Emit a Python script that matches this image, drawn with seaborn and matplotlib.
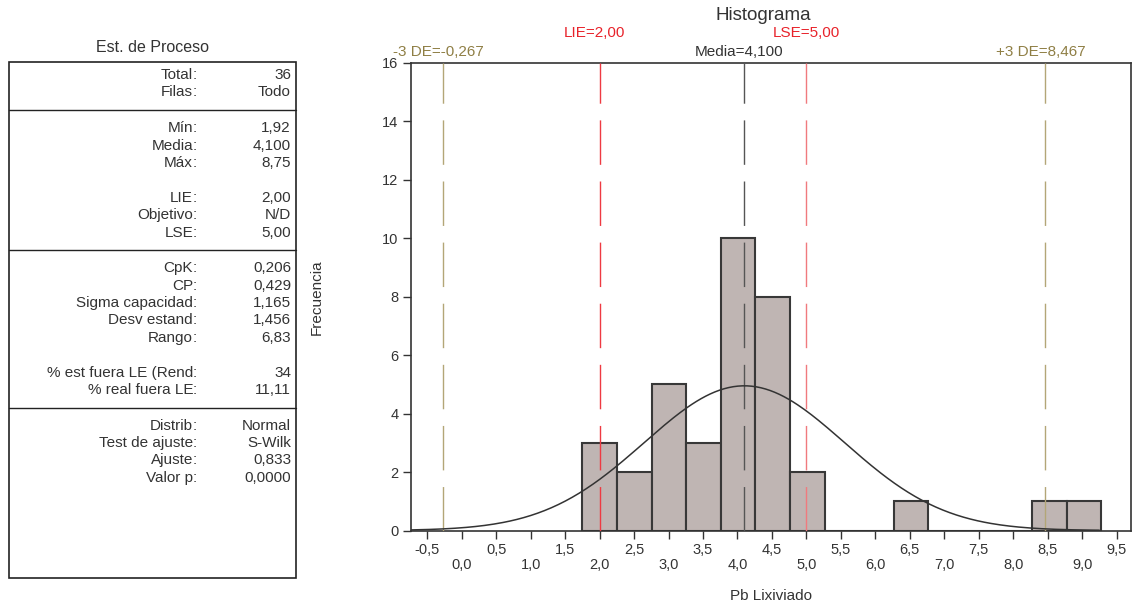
import numpy as np
import pandas as pd
import seaborn as sns
import matplotlib
matplotlib.use('Agg')
import matplotlib.pyplot as plt
from matplotlib.transforms import offset_copy

#%% data
bin_edges = [1.75, 2.252, 2.754, 3.256, 3.758, 4.26, 4.762, 5.264, 5.766,
             6.268, 6.77, 7.272, 7.774, 8.276, 8.778, 9.28]
counts = [3, 2, 5, 3, 10, 8, 2, 0, 0, 1, 0, 0, 0, 1, 1]
n_total = 36
mean, sd = 4.100, 1.456
lie, lse = 2.00, 5.00
minus3, plus3 = -0.267, 8.467

tick_pos = [-0.5, 0.0, 0.5, 1.0, 1.5, 2.0, 2.5, 3.0, 3.5, 4.0, 4.5, 5.0,
            5.5, 6.0, 6.5, 7.0, 7.5, 8.0, 8.5, 9.0, 9.5]
tick_txt = ['-0,5', '0,0', '0,5', '1,0', '1,5', '2,0', '2,5', '3,0', '3,5', '4,0',
            '4,5', '5,0', '5,5', '6,0', '6,5', '7,0', '7,5', '8,0', '8,5', '9,0', '9,5']

stat_groups = [
    [('Total', '36'), ('Filas', 'Todo')],
    [('Mín', '1,92'), ('Media', '4,100'), ('Máx', '8,75'), None,
     ('LIE', '2,00'), ('Objetivo', 'N/D'), ('LSE', '5,00')],
    [('CpK', '0,206'), ('CP', '0,429'), ('Sigma capacidad', '1,165'),
     ('Desv estand', '1,456'), ('Rango', '6,83'), None,
     ('% est fuera LE (Rend', '34'), ('% real fuera LE', '11,11')],
    [('Distrib', 'Normal'), ('Test de ajuste', 'S-Wilk'), ('Ajuste', '0,833'),
     ('Valor p', '0,0000')],
]

#%% plot setup
sns.set_style("white")
plt.rcParams['font.family'] = ['Liberation Sans', 'DejaVu Sans']
txt_col = '#333333'
olive_txt = '#8f7f45'
olive_line = '#b3a677'
red_txt = '#e8232b'
fs = 11

W, H = 1137, 607
fig = plt.figure(figsize=(W / 100, H / 100), dpi=100)

# background axes in pixel coords for the stats panel and title
bg = fig.add_axes([0, 0, 1, 1])
bg.set_xlim(0, W)
bg.set_ylim(H, 0)
bg.axis('off')
bg.add_patch(plt.Rectangle((9, 62), 287, 516, fill=False, ec='#222222', lw=1.2))
bg.text(153, 47, 'Est. de Proceso', ha='center', va='center', fontsize=11.5, color=txt_col)
bg.text(763, 16, 'Histograma', ha='center', va='center', fontsize=13.5, color=txt_col)

y = 75
row_h = 17.4
for gi, group in enumerate(stat_groups):
    for item in group:
        if item is not None:
            lab, val = item
            bg.text(193, y, lab, ha='right', va='center', fontsize=fs, color=txt_col)
            bg.text(197, y, ':', ha='right', va='center', fontsize=fs, color=txt_col)
            bg.text(291, y, val, ha='right', va='center', fontsize=fs, color=txt_col)
        y += row_h
    if gi < len(stat_groups) - 1:
        sep = y - row_h / 2 + 9
        bg.plot([9, 296], [sep, sep], color='#222222', lw=1.0)
        y = sep + 18

#%% histogram
ax = fig.add_axes([411 / W, 1 - 530.5 / H, (1131 - 411) / W, (530.5 - 63) / H])
df = pd.DataFrame({'x': [(a + b) / 2 for a, b in zip(bin_edges[:-1], bin_edges[1:])],
                   'n': counts})
sns.histplot(data=df, x='x', weights='n', bins=bin_edges, ax=ax,
             color='#bfb5b3', edgecolor='#383838', linewidth=1.5, alpha=1, zorder=2)

xmin, xmax = -0.737, 9.71
bw = bin_edges[1] - bin_edges[0]
xs = np.linspace(xmin, 9.25, 300)
ys = n_total * bw * np.exp(-0.5 * ((xs - mean) / sd) ** 2) / (sd * np.sqrt(2 * np.pi))
sns.lineplot(x=xs, y=ys, ax=ax, color='#333333', linewidth=1.1, zorder=4)

dash = (0, (32, 12))
for xv, c in [(minus3, olive_line), (lie, '#ee3a42'), (mean, '#555555'),
              (lse, '#f07a7e'), (plus3, olive_line)]:
    ax.axvline(xv, color=c, lw=1.0, linestyle=dash, zorder=3)

ax.set_xlim(xmin, xmax)
ax.set_ylim(0, 16)
ax.set_yticks(range(0, 17, 2))
ax.set_xticks(tick_pos)
ax.set_xticklabels([t if i % 2 == 0 else '\n' + t for i, t in enumerate(tick_txt)],
                   linespacing=1.05)
ax.tick_params(direction='out', length=6, width=1, colors='#333333', labelsize=10.5,
               bottom=True, left=True, pad=3)
for s in ax.spines.values():
    s.set_color('#333333')
    s.set_linewidth(1.2)
ax.set_xlabel('Pb Lixiviado', fontsize=fs, color=txt_col)
ax.set_ylabel('Frecuencia', fontsize=fs, color=txt_col)
ax.xaxis.set_label_coords((771 - 411) / 720, -0.126)
ax.yaxis.set_label_coords(-0.121, 0.5)

# labels above the reference lines
trans = ax.get_xaxis_transform()
shift = offset_copy(trans, fig=fig, x=-5, y=0, units='dots')
ax.text(minus3, 1.0235, '-3 DE=-0,267', ha='center', va='center', fontsize=fs, color=olive_txt, transform=shift)
ax.text(plus3, 1.0235, '+3 DE=8,467', ha='center', va='center', fontsize=fs, color=olive_txt, transform=shift)
ax.text(mean, 1.0235, 'Media=4,100', ha='center', va='center', fontsize=fs, color=txt_col, transform=shift)
ax.text(lie, 1.064, 'LIE=2,00', ha='center', va='center', fontsize=fs, color=red_txt, transform=shift)
ax.text(lse, 1.064, 'LSE=5,00', ha='center', va='center', fontsize=fs, color=red_txt, transform=trans)

plt.savefig('out.png', dpi=100)
